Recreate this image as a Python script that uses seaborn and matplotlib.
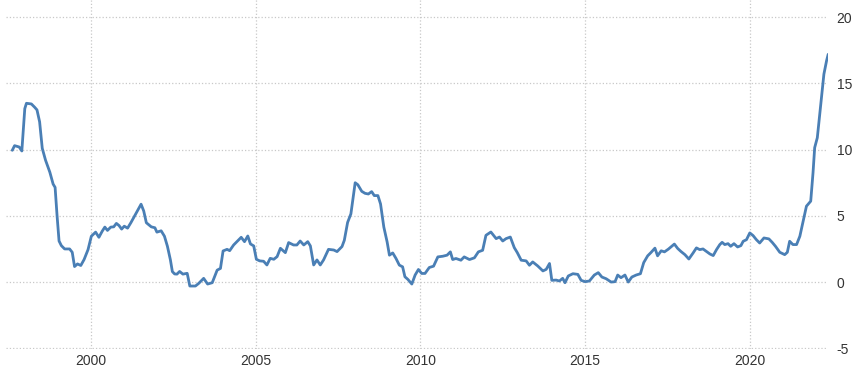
import numpy as np
import pandas as pd
import matplotlib
matplotlib.use("Agg")
import matplotlib.pyplot as plt
import seaborn as sns

# decimal year and value
years = [1997.61, 1997.68, 1997.82, 1997.90, 1997.99, 1998.04, 1998.19, 1998.29, 1998.36, 1998.44,
         1998.52, 1998.62, 1998.75, 1998.85, 1998.91, 1998.97, 1999.03, 1999.10, 1999.20, 1999.35,
         1999.43, 1999.50, 1999.59, 1999.69, 1999.79, 1999.91, 2000.01, 2000.14, 2000.24, 2000.34,
         2000.42, 2000.50, 2000.60, 2000.69, 2000.77, 2000.85, 2000.93, 2001.01, 2001.11, 2001.21,
         2001.38, 2001.52, 2001.60, 2001.68, 2001.83, 2001.94, 2002.00, 2002.13, 2002.23, 2002.32,
         2002.41, 2002.47, 2002.54,
         2002.61, 2002.69, 2002.79, 2002.92, 2003.00, 2003.17, 2003.27, 2003.42, 2003.54, 2003.68,
         2003.83, 2003.93, 2004.01, 2004.13, 2004.21, 2004.33, 2004.43, 2004.56, 2004.66, 2004.76,
         2004.84, 2004.94, 2005.02, 2005.12, 2005.24, 2005.34, 2005.44, 2005.55, 2005.65, 2005.75,
         2005.90, 2006.00, 2006.15, 2006.25, 2006.35, 2006.46, 2006.58, 2006.66, 2006.76, 2006.86,
         2006.96, 2007.06, 2007.21, 2007.37, 2007.47, 2007.62,
         2007.69, 2007.79, 2007.89, 2008.02, 2008.10, 2008.22, 2008.32, 2008.42, 2008.52, 2008.60,
         2008.71, 2008.79, 2008.89, 2008.99, 2009.06, 2009.16, 2009.26, 2009.36, 2009.46, 2009.53,
         2009.62, 2009.74, 2009.84, 2009.94, 2010.04, 2010.14, 2010.27, 2010.40, 2010.53, 2010.68,
         2010.81, 2010.91, 2010.98, 2011.08, 2011.23, 2011.33, 2011.49, 2011.64, 2011.76, 2011.89,
         2011.99, 2012.14, 2012.30, 2012.40, 2012.50, 2012.60, 2012.73, 2012.85,
         2012.94, 2013.06, 2013.21, 2013.31, 2013.41, 2013.56, 2013.72, 2013.82, 2013.92, 2013.99,
         2014.12, 2014.22, 2014.32, 2014.39, 2014.49, 2014.63, 2014.78, 2014.88, 2015.00, 2015.13,
         2015.28, 2015.40, 2015.51, 2015.64, 2015.79, 2015.91, 2015.99, 2016.09, 2016.21, 2016.31,
         2016.42, 2016.55, 2016.68, 2016.78, 2016.90, 2017.00, 2017.12, 2017.20, 2017.31, 2017.41,
         2017.53, 2017.71, 2017.81, 2017.91,
         2018.03, 2018.15, 2018.28, 2018.38, 2018.48, 2018.58, 2018.68, 2018.79, 2018.89, 2018.99,
         2019.09, 2019.16, 2019.24, 2019.34, 2019.42, 2019.52, 2019.63, 2019.73, 2019.80, 2019.90,
         2020.00, 2020.10, 2020.20, 2020.30, 2020.43, 2020.58, 2020.68, 2020.78, 2020.91, 2021.06,
         2021.14, 2021.21, 2021.31, 2021.42, 2021.52, 2021.62, 2021.72, 2021.85, 2021.92, 2021.97,
         2022.05, 2022.15, 2022.25, 2022.33, 2022.38]

values = [9.95, 10.3, 10.2, 9.9, 13.1, 13.5, 13.45, 13.2, 13.0, 12.1,
          10.1, 9.2, 8.3, 7.4, 7.15, 5.0, 3.1, 2.75, 2.5, 2.5,
          2.25, 1.17, 1.37, 1.25, 1.7, 2.45, 3.46, 3.77, 3.38, 3.84,
          4.15, 3.9, 4.15, 4.17, 4.43, 4.27, 4.0, 4.22, 4.07, 4.48,
          5.24, 5.88, 5.37, 4.48, 4.17, 4.1, 3.77, 3.87, 3.46, 2.7,
          1.68, 0.79, 0.61,
          0.6, 0.8, 0.6, 0.66, -0.3, -0.3, -0.1, 0.28, -0.15, -0.05,
          0.9, 1.03, 2.35, 2.47, 2.37, 2.8, 3.05, 3.38, 3.05, 3.48,
          2.88, 2.73, 1.72, 1.6, 1.57, 1.29, 1.79, 1.72, 1.92, 2.55,
          2.22, 2.98, 2.8, 2.8, 3.1, 2.8, 3.05, 2.73, 1.29, 1.67,
          1.29, 1.67, 2.47, 2.42, 2.3, 2.68,
          3.15, 4.5, 5.15, 7.5, 7.35, 6.85, 6.7, 6.65, 6.83, 6.53,
          6.53, 5.9, 4.15, 3.03, 2.03, 2.2, 1.78, 1.28, 1.15, 0.4,
          0.2, -0.15, 0.53, 0.95, 0.65, 0.65, 1.1, 1.2, 1.9, 1.95,
          2.03, 2.28, 1.7, 1.78, 1.65, 1.9, 1.7, 1.83, 2.28, 2.4,
          3.53, 3.78, 3.28, 3.4, 3.1, 3.28, 3.4, 2.6,
          2.23, 1.65, 1.6, 1.27, 1.52, 1.22, 0.84, 0.96, 1.4, 0.13,
          0.15, 0.08, 0.28, -0.05, 0.46, 0.63, 0.58, 0.13, 0.03, 0.08,
          0.53, 0.71, 0.38, 0.25, 0.0, 0.03, 0.53, 0.33, 0.53, 0.0,
          0.38, 0.53, 0.63, 1.47, 1.98, 2.23, 2.56, 1.98, 2.36, 2.28,
          2.49, 2.87, 2.54, 2.31,
          2.07, 1.74, 2.2, 2.58, 2.45, 2.5, 2.32, 2.12, 2.0, 2.45,
          2.83, 3.0, 2.83, 2.9, 2.7, 2.9, 2.65, 2.75, 3.08, 3.2,
          3.71, 3.51, 3.2, 2.95, 3.33, 3.26, 3.0, 2.7, 2.25, 2.07,
          2.25, 3.08, 2.83, 2.83, 3.46, 4.6, 5.73, 6.11, 8.26, 10.15,
          10.9, 13.3, 15.7, 16.7, 17.2]

x_ticks = [2000, 2005, 2010, 2015, 2020]
y_ticks = [-5, 0, 5, 10, 15, 20]

df = pd.DataFrame({"year": years, "value": values})

sns.set_style("white")
plt.rcParams['font.family'] = ['Liberation Sans', 'DejaVu Sans']
plt.rcParams['axes.unicode_minus'] = False

fig = plt.figure(figsize=(8.6, 3.76), dpi=100)
ax = fig.add_axes([0.007, 0.072, 0.956, 0.928])

sns.lineplot(data=df, x="year", y="value", ax=ax, color="#4a7fb5", linewidth=2.0, sort=False)

ax.set_xlim(1997.42, 2022.38)
ax.set_ylim(-5.05, 21.3)
ax.set_xticks(x_ticks)
ax.set_xticklabels([str(t) for t in x_ticks])
ax.set_yticks(y_ticks)
ax.yaxis.tick_right()
ax.tick_params(axis='both', length=0, labelsize=10, colors='#333333')
ax.tick_params(axis='x', pad=4)
ax.tick_params(axis='y', pad=6)
ax.grid(True, linestyle=':', color='#c8c8c8', linewidth=0.9)
for s in ax.spines.values():
    s.set_visible(False)
ax.set_xlabel("")
ax.set_ylabel("")

plt.savefig("out.png", dpi=100)
plt.close('all')
